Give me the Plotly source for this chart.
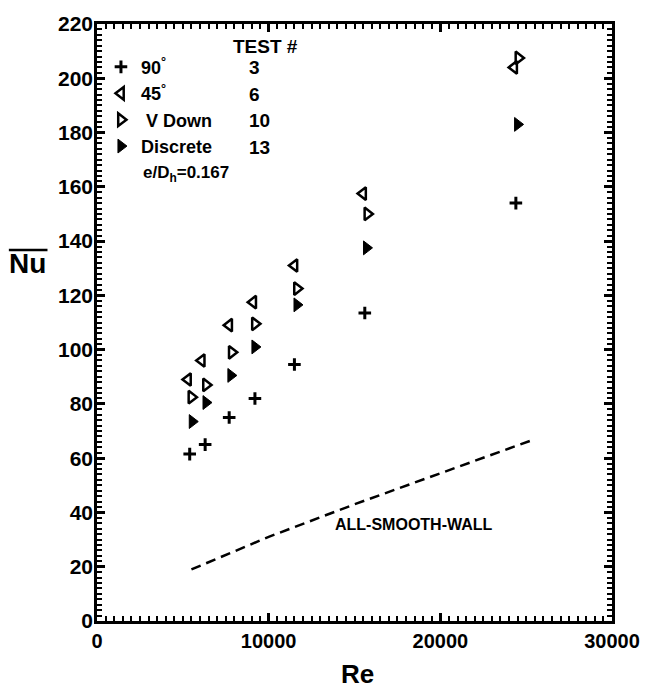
import plotly.graph_objects as go

# ---- data ----
re_90 = [5400, 6300, 7700, 9200, 11500, 15600, 24400]
nu_90 = [61.5, 65, 75, 82, 94.5, 113.5, 154]

re_45 = [5300, 6100, 7700, 9100, 11500, 15500, 24300]
nu_45 = [89, 96, 109, 117.5, 131, 157.5, 204]

re_vdown = [5500, 6350, 7850, 9200, 11650, 15750, 24550]
nu_vdown = [82.5, 87, 99, 109.5, 122.5, 150, 207.5]

re_disc = [5550, 6350, 7800, 9200, 11650, 15700, 24500]
nu_disc = [73.5, 80.5, 90.5, 101, 116.5, 137.5, 183]

re_smooth = [5500, 10000, 15000, 20000, 25500]
nu_smooth = [19, 31, 43, 54.5, 67]

x_range = [0, 30000]
x_major, x_minor = 10000, 500
y_range = [0, 220]
y_major, y_minor = 20, 2

series_names = ["90<sup>°</sup>", "45<sup>°</sup>", " V Down", "Discrete"]
test_numbers = ["3", "6", "10", "13"]

# ---- layout geometry (pixels) ----
W, H = 652, 698
L, R, T, B = 97, 617, 16, 621
FONT = "Liberation Sans, Arial, Helvetica, sans-serif"


def pp(x, y):
    return (x - L) / (R - L), (B - y) / (B - T)


fig = go.Figure()

fig.add_trace(go.Scatter(
    x=re_smooth, y=nu_smooth, mode="lines", showlegend=False,
    line=dict(color="black", width=2.5, dash="10px,6px")))

fig.add_trace(go.Scatter(
    x=re_90, y=nu_90, mode="markers", name=series_names[0],
    marker=dict(symbol="cross-thin", size=9, color="black",
                line=dict(color="black", width=3))))
fig.add_trace(go.Scatter(
    x=re_45, y=nu_45, mode="markers", name=series_names[1],
    marker=dict(symbol="triangle-left-open", size=11, color="black",
                line=dict(color="black", width=2.5))))
fig.add_trace(go.Scatter(
    x=re_vdown, y=nu_vdown, mode="markers", name=series_names[2],
    marker=dict(symbol="triangle-right-open", size=11, color="black",
                line=dict(color="black", width=2.5))))
fig.add_trace(go.Scatter(
    x=re_disc, y=nu_disc, mode="markers", name=series_names[3],
    marker=dict(symbol="triangle-right", size=12, color="black",
                line=dict(color="black", width=1))))

lx, ly = pp(101, 41)
fig.update_layout(
    width=W, height=H,
    margin=dict(l=L, r=W - R, t=T, b=H - B),
    plot_bgcolor="white", paper_bgcolor="white",
    font=dict(family=FONT, color="black"),
    legend=dict(x=lx, y=ly, xanchor="left", yanchor="top",
                bgcolor="rgba(0,0,0,0)", borderwidth=0,
                font=dict(size=18, family=FONT, weight="bold", color="black"),
                itemwidth=30, tracegroupgap=0),
)

common = dict(
    ticks="inside", ticklen=8, tickwidth=2.5, tickcolor="black",
    showline=True, linewidth=2.5, linecolor="black", mirror="allticks",
    showgrid=False, zeroline=False, layer="above traces",
)
fig.update_xaxes(
    range=x_range, tickmode="linear", tick0=0, dtick=x_major, tickformat="d",
    minor=dict(ticks="inside", tickmode="linear", tick0=0, dtick=x_minor,
               ticklen=5, tickwidth=2, tickcolor="black", showgrid=False),
    tickfont=dict(size=20, family=FONT, weight="bold", color="black"),
    ticklabelstandoff=0, **common,
)
fig.update_yaxes(
    range=y_range, tickmode="linear", tick0=0, dtick=y_major, tickformat="d",
    minor=dict(ticks="inside", tickmode="linear", tick0=0, dtick=y_minor,
               ticklen=5, tickwidth=2, tickcolor="black", showgrid=False),
    tickfont=dict(size=21, family=FONT, weight="bold", color="black"),
    ticklabelstandoff=-3, **common,
)

ann = []


def add_text(text, px, py, size, xanchor="center"):
    x, y = pp(px, py)
    ann.append(dict(text=text, x=x, y=y, xref="paper", yref="paper",
                    xanchor=xanchor, yanchor="middle", showarrow=False,
                    font=dict(size=size, family=FONT, weight="bold", color="black")))


add_text("TEST #", 267, 39, 19)
for num, py in zip(test_numbers, [60, 87, 114, 141]):
    add_text(num, 248, py, 19, xanchor="left")
add_text("e/D<sub>h</sub>=0.167", 141, 168, 17, xanchor="left")
add_text("ALL-SMOOTH-WALL", 417, 523, 16)
add_text("Re", 360, 675, 26)
add_text("Nu", 27, 259, 28)
fig.update_layout(annotations=ann)

# overline on Nu
ox0, oy = pp(8, 245)
ox1, _ = pp(47, 245)
fig.add_shape(type="line", xref="paper", yref="paper", x0=ox0, x1=ox1, y0=oy, y1=oy,
              line=dict(color="black", width=2.5))

fig.write_html("out.html",
               config={"displayModeBar": False},
               post_script="document.body.style.margin='0';document.body.style.overflow='hidden';")
